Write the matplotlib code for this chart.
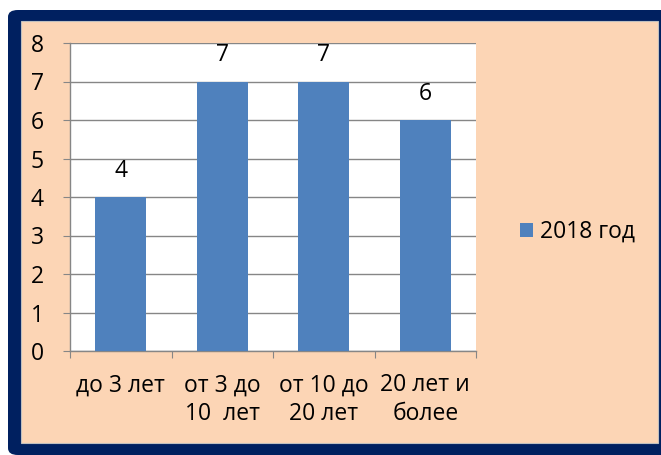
import matplotlib
matplotlib.use("Agg")
import matplotlib.pyplot as plt
from matplotlib.patches import FancyBboxPatch, Rectangle

plt.rcParams['font.family'] = ['Open Sans', 'DejaVu Sans']

categories = ["до 3 лет", "от 3 до\n10  лет", "от 10 до\n20 лет", "20 лет и\nболее"]
values = [4, 7, 7, 6]
series_name = "2018 год"
yticks = [0, 1, 2, 3, 4, 5, 6, 7, 8]

W, H = 661, 455
fig = plt.figure(figsize=(W / 100, H / 100), dpi=100)
fig.patch.set_facecolor('white')

navy = '#002060'
peach = '#FCD5B5'
bar_color = '#4F81BD'
gray = '#868686'
FS = 16.5

# navy frame
fig.patches.append(FancyBboxPatch((8 / W, 0 / H), (W + 20 - 8) / W, (445 - 0) / H,
                                  boxstyle="round,pad=0,rounding_size=0.015",
                                  transform=fig.transFigure, facecolor=navy,
                                  edgecolor='none', zorder=0))
fig.patches.append(Rectangle((21 / W, 12 / H), (658 - 21) / W, (434 - 12) / H,
                             transform=fig.transFigure, facecolor=peach,
                             edgecolor='#BFBFBF', linewidth=0.8, zorder=1))

ax = fig.add_axes([70 / W, (455 - 351) / H, (476 - 70) / W, (351 - 43) / H])
ax.set_facecolor('white')
ax.set_zorder(2)

x = list(range(len(categories)))
bars = ax.bar(x, values, width=0.5, color=bar_color, zorder=3, label=series_name)

for xi, v in zip(x, values):
    ax.annotate(str(v), (xi, v), xytext=(0, 19), textcoords='offset points',
                ha='center', va='center', fontsize=FS, color='black')

ax.set_xlim(-0.5, len(categories) - 0.5)
ax.set_ylim(0, 8)
ax.set_yticks(yticks)
ax.set_yticklabels([str(t) for t in yticks], fontsize=FS)
ax.yaxis.grid(True, color=gray, linewidth=1.0, zorder=0)
ax.set_axisbelow(True)

ax.set_xticks([i - 0.5 for i in range(len(categories) + 1)])
ax.set_xticklabels([])
ax.set_xticks(x, minor=True)
ax.set_xticklabels(categories, minor=True, fontsize=FS, linespacing=1.28)
ax.tick_params(axis='x', which='major', length=5, color=gray, direction='out')
ax.tick_params(axis='x', which='minor', length=0, pad=16)
ax.tick_params(axis='y', length=5, color=gray, direction='out', pad=14)

for s in ['top', 'right']:
    ax.spines[s].set_visible(False)
for s in ['left', 'bottom']:
    ax.spines[s].set_color(gray)
    ax.spines[s].set_linewidth(1.0)

leg = fig.legend(handles=[bars], labels=[series_name], loc='center left',
                 bbox_to_anchor=(499 / W, (455 - 232) / H), frameon=False,
                 fontsize=FS, handlelength=0.6, handleheight=0.6,
                 handletextpad=0.3)

fig.savefig('out.png', dpi=100, facecolor=fig.get_facecolor())
